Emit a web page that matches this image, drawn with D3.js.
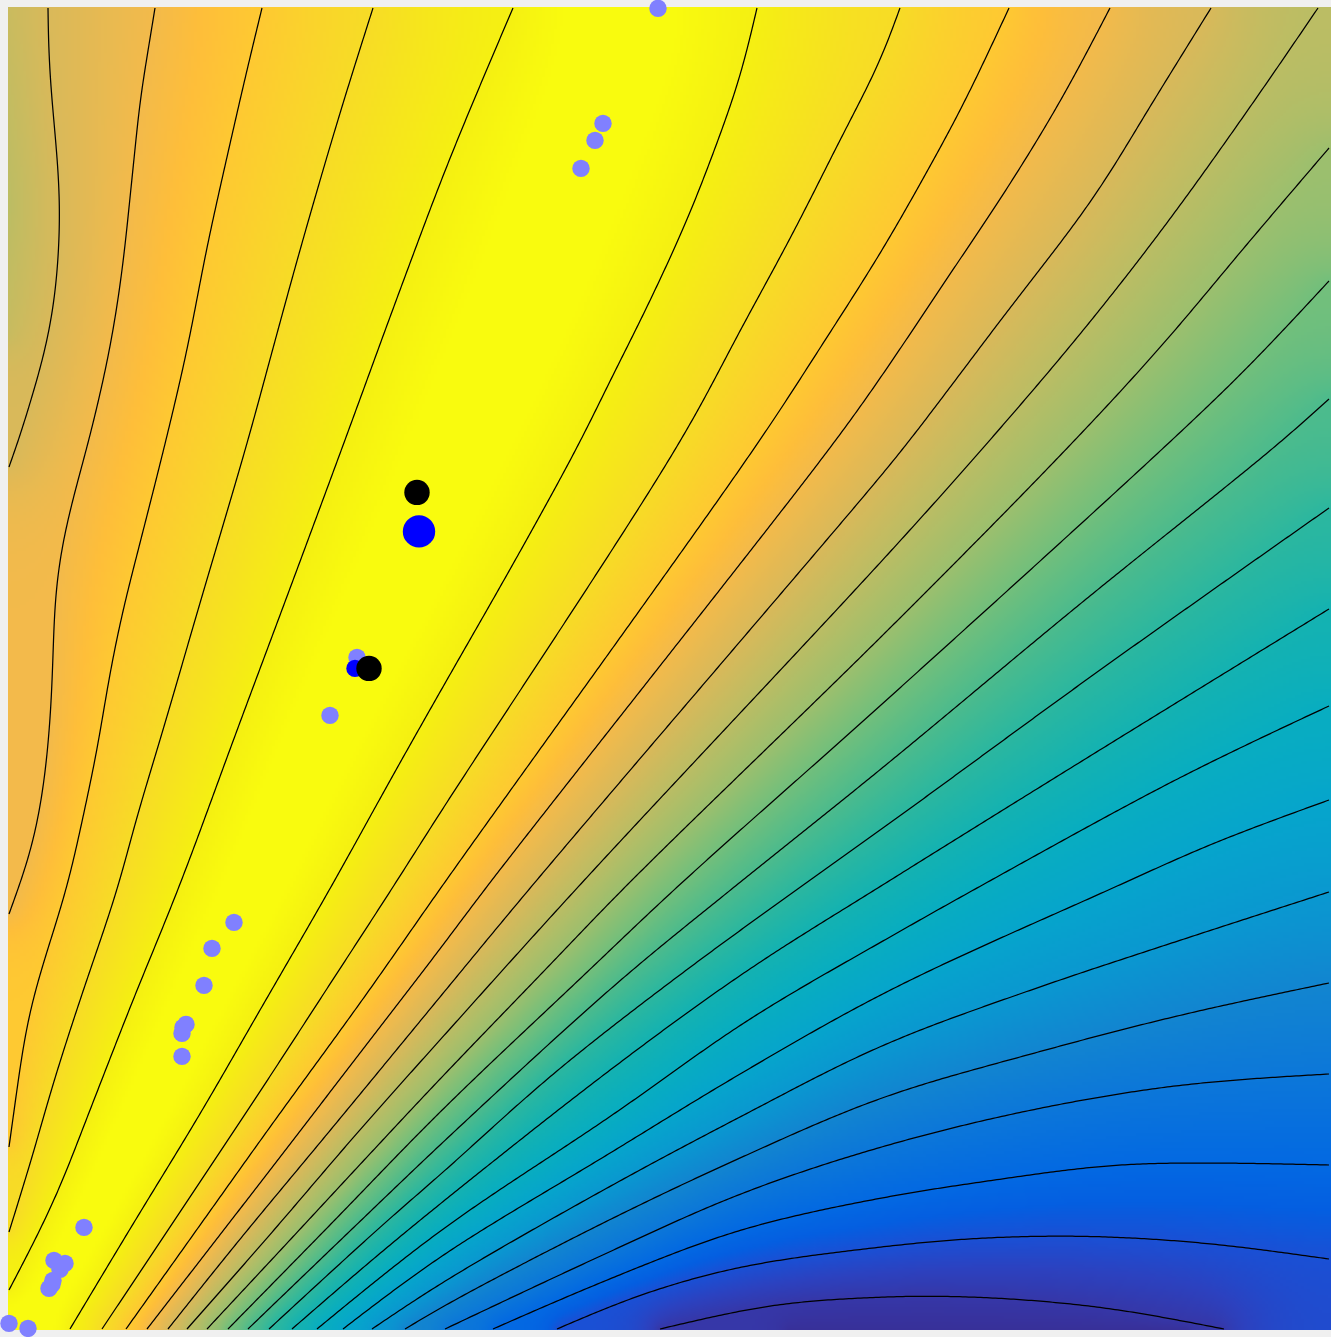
<!DOCTYPE html>
<html>
<head>
<meta charset="utf-8">
<script src="https://cdn.jsdelivr.net/npm/d3@7"></script>
<style>
html,body{margin:0;padding:0;background:#f0f0f0;overflow:hidden}
svg{display:block}
</style>
</head>
<body>
<svg id="chart" width="1331" height="1337"></svg>
<script>
// Level numbers count away from the central ridge.
const contourL5 = [[505,0],[442,150],[392,282],[337,432],[284,575],[228,725],[171,879],[125,992],[82,1102],[49,1186],[25,1236],[1,1282]];
const contourL4 = [[365,0],[332,105],[292,242],[261,355],[240,432],[192,595],[155,722],[128,812],[110,879],[72,992],[45,1076],[25,1146],[1,1224]];
const contourL3 = [[254,0],[239,62],[219,149],[199,239],[179,342],[158,432],[132,535],[115,602],[102,665],[89,742],[75,809],[59,879],[35,956],[22,1002],[14,1046],[7,1096],[1,1139]];
const contourL2 = [[147,0],[139,49],[132,92],[127,142],[122,189],[117,239],[109,299],[99,355],[89,399],[81,432],[62,502],[52,549],[47,592],[45,649],[43,699],[39,749],[34,789],[24,839],[11,879],[1,906]];
const contourL1 = [[40,0],[40,22],[42,69],[47,125],[50,159],[52,199],[51,239],[49,269],[44,309],[34,355],[22,395],[8,441],[1,459]];
const contourR1 = [[749,0],[732,69],[709,135],[679,212],[639,299],[601,375],[573,432],[509,549],[432,684],[384,769],[323,879],[252,1002],[192,1106],[125,1216],[62,1321]];
const contourR2 = [[892,0],[873,51],[832,132],[785,225],[734,319],[673,432],[432,805],[385,879],[322,976],[255,1079],[188,1180],[94,1321]];
const contourR3 = [[1001,0],[956,95],[916,169],[873,244],[812,340],[752,432],[432,881],[360,984],[262,1119],[190,1220],[118,1321]];
const contourR4 = [[1102,0],[1053,92],[1000,179],[940,269],[873,369],[828,432],[477,881],[432,941],[362,1032],[259,1166],[139,1321]];
const contourR5 = [[1203,0],[1146,92],[1086,189],[995,309],[902,432],[882,457],[523,879],[432,989],[325,1119],[228,1236],[160,1321]];
const contourR6 = [[1310,0],[1240,102],[1156,219],[1073,325],[982,432],[882,544],[570,879],[432,1032],[350,1124],[260,1229],[179,1321]];
const contourR7 = [[1321,140],[1240,235],[1156,335],[1067,432],[882,620],[616,880],[538,961],[432,1071],[359,1149],[282,1232],[199,1321]];
const contourR8 = [[1321,273],[1240,359],[1164,432],[873,697],[668,880],[574,969],[432,1104],[323,1216],[220,1321]];
const contourR9 = [[1321,391],[1275,432],[1072,596],[873,761],[725,880],[608,976],[432,1137],[367,1199],[240,1321]];
const contourR10 = [[1321,500],[1092,662],[882,815],[791,880],[673,966],[545,1066],[432,1167],[380,1212],[261,1321]];
const contourR11 = [[1321,601],[1095,740],[873,878],[740,962],[606,1059],[432,1196],[364,1252],[284,1321]];
const contourR12 = [[1321,698],[1173,769],[969,880],[882,929],[740,1012],[606,1106],[432,1223],[309,1321]];
const contourR13 = [[1321,792],[1206,835],[1105,880],[882,982],[732,1066],[599,1147],[432,1249],[335,1321]];
const contourR14 = [[1321,884],[1173,932],[1023,982],[873,1038],[732,1109],[599,1180],[432,1276],[364,1321]];
const contourR15 = [[1321,975],[1173,1007],[1023,1046],[873,1090],[732,1150],[599,1213],[432,1300],[397,1321]];
const contourR16 = [[1321,1066],[1173,1077],[1023,1102],[873,1139],[732,1186],[599,1245],[437,1321]];
const contourR17 = [[1321,1157],[1206,1155],[1106,1157],[973,1174],[873,1190],[732,1222],[599,1272],[485,1321]];
const contourR18 = [[1321,1251],[1206,1236],[1106,1229],[1040,1228],[956,1231],[873,1239],[732,1259],[632,1287],[549,1321]];
const contourR19 = [[1216,1321],[1106,1301],[1006,1291],[923,1288],[873,1289],[765,1297],[652,1321]];

// Undrawn control lines of the colour field.
const ridgeLine = [[627,-1],[570,150],[515,300],[455,432],[390,575],[315,725],[247,879],[190,992],[138,1102],[80,1216],[20,1323]];
const troughLine = [[780,1323],[960,1323],[1180,1323]];
const leftEdge = [[-1,-1,5.5],[-1,200,6],[-1,330,5.6]];

const contours = [
  {level:5,line:contourL1},{level:4,line:contourL2},{level:3,line:contourL3},{level:2,line:contourL4},{level:1,line:contourL5},
  {level:1,line:contourR1},{level:2,line:contourR2},{level:3,line:contourR3},{level:4,line:contourR4},{level:5,line:contourR5},
  {level:6,line:contourR6},{level:7,line:contourR7},{level:8,line:contourR8},{level:9,line:contourR9},{level:10,line:contourR10},
  {level:11,line:contourR11},{level:12,line:contourR12},{level:13,line:contourR13},{level:14,line:contourR14},{level:15,line:contourR15},
  {level:16,line:contourR16},{level:17,line:contourR17},{level:18,line:contourR18},{level:19,line:contourR19}
];

const colorLevels = [0,0.45,1,2,3,3.5,4,5,6,7,8,9,10,11,12,13,14,15,16,17,17.5,18,18.5,19,20];
const colorStops = ["#f9fb0e","#f9fb0e","#f5f012","#f7dc26","#fec932","#febe3a","#f3ba4b","#d9b95a","#bbbd64","#9cbf6e","#72bf7c","#4cbb8d","#2bb7a0","#14b2b2","#08adc1","#06a5cc","#0a98d0","#1285d0","#0c77d9","#0369e2","#045fe1","#1a50d5","#2c42c0","#3637a8","#382c90"];

// Markers
const pointsLight = [[650,0],[595,115],[587,132],[573,160],[349,649],[322,707],[226,914],[204,940],[196,977],[178,1016],[175,1019],[174,1025],[174,1048],[76,1219],[46,1252],[57,1255],[52,1261],[45,1272],[44,1276],[41,1280],[1,1315],[20,1320]];
const pointsBlueLarge = [[411,523]];
const pointsBlueSmall = [[347,660]];
const pointsBlack = [[409,484],[361,660]];

const x = d3.scaleLinear().domain([0,1323]).range([8,1331]);
const y = d3.scaleLinear().domain([0,1322]).range([8,1330]);
const color = d3.scaleLinear().domain(colorLevels).range(colorStops).interpolate(d3.interpolateRgb);

const svg = d3.select("#chart");
const curve = d3.line().x(d=>x(d[0])).y(d=>y(d[1])).curve(d3.curveCatmullRom.alpha(0.5));
const plain = d3.line();

svg.append("clipPath").attr("id","plot").append("rect")
  .attr("x",8).attr("y",7).attr("width",1323).attr("height",1323);

const imageLayer = svg.append("g").attr("clip-path","url(#plot)");

// Each traced line is fairly smoothed along its length to take out reading noise; ends stay put.
const sigma = 9, spacing = 3;
const kernel = d3.range(-3*sigma,3*sigma+1).map(k=>Math.exp(-k*k/(2*sigma*sigma)));
const kernelSum = d3.sum(kernel);
function smoothed(node){
  const L = node.getTotalLength(), n = Math.max(2,Math.round(L/spacing));
  const pts = d3.range(n+1).map(i=>{const p=node.getPointAtLength(L*i/n);return [p.x,p.y];});
  const at = (i,c)=> i<0 ? 2*pts[0][c]-pts[-i][c] : i>n ? 2*pts[n][c]-pts[2*n-i][c] : pts[i][c];
  return pts.map((_,i)=>[0,1].map(c=>{
    let s=0; kernel.forEach((w,k)=>{
      const j=Math.max(-n,Math.min(2*n,i+k-3*sigma)); s+=w*at(j,c);
    });
    return s/kernelSum;
  }));
}

const lines = svg.append("g").selectAll("path").data(contours).join("path")
  .attr("d",d=>curve(d.line)).attr("fill","none").attr("stroke","#000").attr("stroke-width",1.25);
lines.attr("d",function(){return plain(smoothed(this));});

// Colour field: relaxed between the contour lines.
const step = 3, nx = 443, ny = 443;
const F = new Float32Array(nx*ny).fill(8), fixed = new Uint8Array(nx*ny);
const setCell = (px,py,v)=>{
  const i = Math.max(0,Math.min(nx-1,Math.round((px+3)/step)));
  const j = Math.max(0,Math.min(ny-1,Math.round((py+3)/step)));
  F[j*nx+i] = v; fixed[j*nx+i] = 1;
};
lines.each(function(d){
  const L = this.getTotalLength();
  for(let s=0;s<=L;s+=1){
    const p = this.getPointAtLength(s);
    setCell(x.invert(p.x),y.invert(p.y),d.level);
  }
});
const anchor = (pts,level)=>{
  for(let k=0;k<pts.length-1;k++){
    const a=pts[k],b=pts[k+1],n=Math.ceil(Math.hypot(b[0]-a[0],b[1]-a[1]));
    for(let s=0;s<=n;s++){
      const t=s/n;
      const v = level===undefined ? a[2]+(b[2]-a[2])*t : level;
      setCell(a[0]+(b[0]-a[0])*t,a[1]+(b[1]-a[1])*t,v);
    }
  }
};
anchor(ridgeLine,0);
anchor(troughLine,19.65);
anchor(leftEdge);

const w = 1.88;
for(let it=0;it<700;it++){
  for(let j=0;j<ny;j++){
    const jm = j>0?-nx:nx, jp = j<ny-1?nx:-nx;
    for(let i=0;i<nx;i++){
      const k=j*nx+i;
      if(fixed[k]) continue;
      const im = i>0?-1:1, ip = i<nx-1?1:-1;
      F[k] += w*((F[k+im]+F[k+ip]+F[k+jm]+F[k+jp])/4-F[k]);
    }
  }
}

const lut = d3.range(0,2049).map(i=>d3.rgb(color(i/2048*20)));
const canvas = document.createElement("canvas");
canvas.width=nx; canvas.height=ny;
const ctx = canvas.getContext("2d");
const img = ctx.createImageData(nx,ny);
for(let k=0;k<nx*ny;k++){
  const c = lut[Math.max(0,Math.min(2048,Math.round(F[k]/20*2048)))];
  img.data[k*4]=c.r; img.data[k*4+1]=c.g; img.data[k*4+2]=c.b; img.data[k*4+3]=255;
}
ctx.putImageData(img,0,0);
imageLayer.append("image")
  .attr("href",canvas.toDataURL())
  .attr("x",x(-3-step/2)).attr("y",y(-3-step/2))
  .attr("width",nx*step).attr("height",ny*step)
  .attr("preserveAspectRatio","none");

const dots = (data,r,fill)=>svg.append("g").selectAll("circle").data(data).join("circle")
  .attr("cx",d=>x(d[0])).attr("cy",d=>y(d[1])+0.4).attr("r",r).attr("fill",fill);
dots(pointsLight,8.7,"#8080ff");
dots(pointsBlueSmall,8.7,"#0000ff");
dots(pointsBlueLarge,16.2,"#0000ff");
dots(pointsBlack,12.7,"#000000");
</script>
</body>
</html>
